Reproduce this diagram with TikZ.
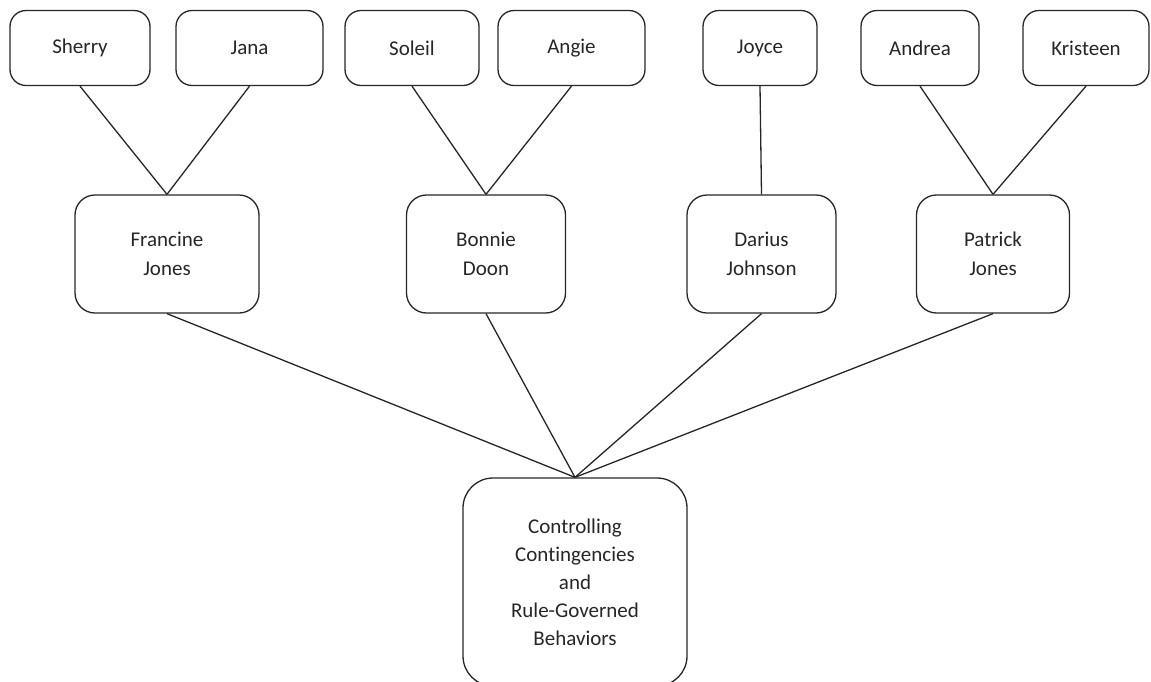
\documentclass[tikz,border=0pt]{standalone}
\usepackage{fontspec}
\setmainfont{Carlito}[Ligatures=CommonOff]
\begin{document}
\begin{tikzpicture}[x=1pt,y=-1pt,
  box/.style={draw=black!85, line width=1.3pt, rounded corners=#1, inner sep=0pt, align=center, text=black!85, font=\fontsize{21}{28}\selectfont},
  box/.default=16pt,
  midbox/.style={box=20pt, font=\fontsize{21}{29.5}\selectfont, minimum height=118pt},
  link/.style={draw=black!85, line width=1.3pt}]
\useasboundingbox (0,0) rectangle (1151,681);
% top row
\node[box, minimum width=140pt, minimum height=75pt] (sherry) at (80,48) {Sherry};
\node[box, minimum width=147pt, minimum height=75pt] (jana) at (249.5,48) {Jana};
\node[box, minimum width=134pt, minimum height=75pt] (soleil) at (412,48) {Soleil};
\node[box, minimum width=147pt, minimum height=75pt] (angie) at (571.5,48) {Angie};
\node[box, minimum width=114pt, minimum height=75pt] (joyce) at (760,48) {Joyce};
\node[box, minimum width=118pt, minimum height=75pt] (andrea) at (920,48) {Andrea};
\node[box, minimum width=126pt, minimum height=75pt] (kristeen) at (1086,48) {Kristeen};
% middle row
\node[midbox, minimum width=184pt] (francine) at (167,254) {Francine\\Jones};
\node[midbox, minimum width=159pt] (bonnie) at (486,254) {Bonnie\\Doon};
\node[midbox, minimum width=149pt] (darius) at (761.5,254) {Darius\\Johnson};
\node[midbox, minimum width=153pt] (patrick) at (993,254) {Patrick\\Jones};
% bottom
\node[box=30pt, minimum width=224pt, minimum height=208pt] (ctrl) at (575,582) {Controlling\\Contingencies\\and\\Rule-Governed\\Behaviors};
% connectors
\draw[link] (sherry.south) -- (francine.north);
\draw[link] (jana.south) -- (francine.north);
\draw[link] (soleil.south) -- (bonnie.north);
\draw[link] (angie.south) -- (bonnie.north);
\draw[link] (joyce.south) -- (darius.north);
\draw[link] (andrea.south) -- (patrick.north);
\draw[link] (kristeen.south) -- (patrick.north);
\draw[link] (francine.south) -- (ctrl.north);
\draw[link] (bonnie.south) -- (ctrl.north);
\draw[link] (darius.south) -- (ctrl.north);
\draw[link] (patrick.south) -- (ctrl.north);
\end{tikzpicture}
\end{document}
